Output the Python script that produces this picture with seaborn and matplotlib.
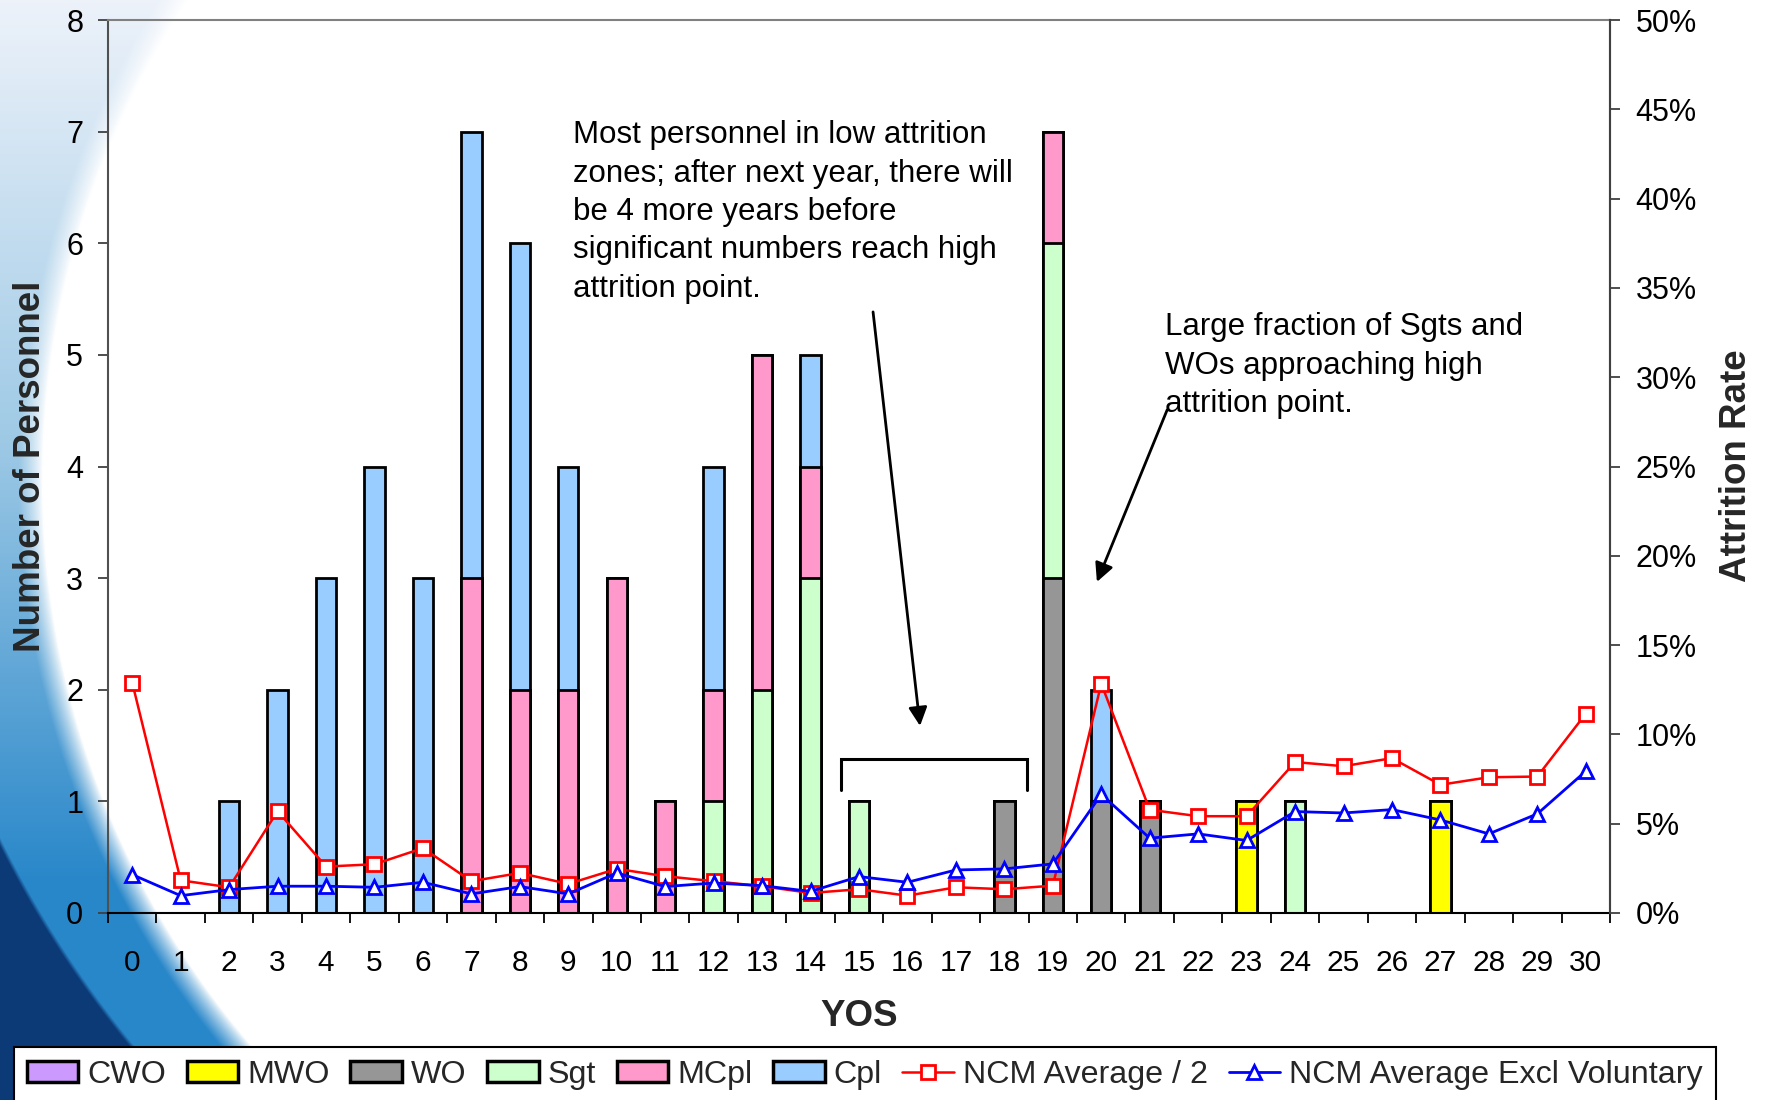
import numpy as np
import pandas as pd
import matplotlib
matplotlib.use("Agg")
import matplotlib.pyplot as plt
from matplotlib.patches import Patch
from matplotlib.lines import Line2D
from matplotlib.ticker import FixedLocator, FuncFormatter
import seaborn as sns

# ---- data -------------------------------------------------------------
years = list(range(31))
cwo  = [0, 0, 0, 0, 0, 0, 0, 0, 0, 0, 0, 0, 0, 0, 0, 0, 0, 0, 0, 0, 0, 0, 0, 0, 0, 0, 0, 0, 0, 0, 0]
mwo  = [0, 0, 0, 0, 0, 0, 0, 0, 0, 0, 0, 0, 0, 0, 0, 0, 0, 0, 0, 0, 0, 0, 0, 1, 0, 0, 0, 1, 0, 0, 0]
wo   = [0, 0, 0, 0, 0, 0, 0, 0, 0, 0, 0, 0, 0, 0, 0, 0, 0, 0, 1, 3, 1, 1, 0, 0, 0, 0, 0, 0, 0, 0, 0]
sgt  = [0, 0, 0, 0, 0, 0, 0, 0, 0, 0, 0, 0, 1, 2, 3, 1, 0, 0, 0, 3, 0, 0, 0, 0, 1, 0, 0, 0, 0, 0, 0]
mcpl = [0, 0, 0, 0, 0, 0, 0, 3, 2, 2, 3, 1, 1, 3, 1, 0, 0, 0, 0, 1, 0, 0, 0, 0, 0, 0, 0, 0, 0, 0, 0]
cpl  = [0, 0, 1, 2, 3, 4, 3, 4, 4, 2, 0, 0, 2, 0, 1, 0, 0, 0, 0, 0, 1, 0, 0, 0, 0, 0, 0, 0, 0, 0, 0]

# attrition rates, percent
ncm_avg_half = [12.9, 1.83, 1.44, 5.7, 2.6, 2.73, 3.63, 1.78, 2.24, 1.63, 2.47, 2.06, 1.78, 1.5,
                1.12, 1.33, 0.97, 1.44, 1.33, 1.53, 12.84, 5.78, 5.42, 5.42, 8.45, 8.22, 8.67,
                7.18, 7.6, 7.64, 11.16]
ncm_avg_excl_vol = [2.15, 0.97, 1.31, 1.5, 1.5, 1.44, 1.72, 1.07, 1.48, 1.07, 2.24, 1.48, 1.68,
                    1.53, 1.21, 2.04, 1.72, 2.41, 2.47, 2.75, 6.64, 4.19, 4.43, 4.06, 5.68, 5.6,
                    5.79, 5.21, 4.43, 5.55, 7.94]

rank_names = ["CWO", "MWO", "WO", "Sgt", "MCpl", "Cpl"]
rank_counts = [cwo, mwo, wo, sgt, mcpl, cpl]
rank_colors = ["#CC99FF", "#FFFF00", "#969696", "#CCFFCC", "#FF99CC", "#99CCFF"]

# ---- style ------------------------------------------------------------
sns.set_theme(style="white")
plt.rcParams["font.family"] = ["Liberation Sans", "DejaVu Sans"]

W, H = 1767, 1100
fig = plt.figure(figsize=(W / 100, H / 100), dpi=100, facecolor="white")

# slide-template backdrop: blue swoosh on the left edge
yy, xx = np.mgrid[0:H, 0:W].astype(float)
d_white = np.hypot(xx - 912, yy - 480) - 870
d_navy = np.hypot(xx - 953, yy - 371) - 1063
t = np.clip(yy / 880.0, 0, 1)[..., None]
c_top = np.array([0.93, 0.95, 0.98])
c_mid = np.array([0.62, 0.79, 0.90])
c_bot = np.array([0.16, 0.53, 0.79])
blue = np.where(t < 0.5, c_top + (c_mid - c_top) * (t / 0.5),
                c_mid + (c_bot - c_mid) * ((t - 0.5) / 0.5))
navy = np.array([0.05, 0.23, 0.47])
n = np.clip((d_navy + 2) / 4.0, 0, 1)[..., None]
blue = blue * (1 - n) + navy * n
w = (np.clip(d_white / 24.0, 0, 1) ** 0.8)
w = np.where(xx < 700, w, 0)[..., None]
img = np.ones((H, W, 3)) * (1 - w) + blue * w
bg = fig.add_axes([0, 0, 1, 1], zorder=-10)
bg.imshow(img, aspect="auto", extent=(0, 1, 0, 1), interpolation="bilinear")
bg.axis("off")

# ---- main axes --------------------------------------------------------
ax = fig.add_axes([108 / W, 1 - 913 / H, (1610 - 108) / W, (913 - 20) / H], zorder=1)
ax.set_facecolor("none")

# stacked bars: draw cumulative totals from the top layer down
cum = np.zeros(len(years))
tops = []
for vals in rank_counts:
    cum = cum + np.array(vals, dtype=float)
    tops.append(cum.copy())
for top, col in reversed(list(zip(tops, rank_colors))):
    sns.barplot(x=years, y=top, color=col, saturation=1, edgecolor="black",
                linewidth=2.0, width=0.42, errorbar=None, ax=ax)

ax.set_xlim(-0.5, 30.5)
ax.set_ylim(0, 8)
ax.set_yticks(range(0, 9))
ax.set_xticks(years)
ax.set_xticklabels([str(y) for y in years])
ax.xaxis.set_minor_locator(FixedLocator(np.arange(-0.5, 31, 1.0)))
ax.set_xlabel("")
ax.set_ylabel("")
ax.tick_params(axis="x", which="major", length=0, pad=26, labelsize=21.5, colors="black")
ax.tick_params(axis="x", which="minor", bottom=True, length=7.5, width=1.3,
               direction="out", color="black")
ax.tick_params(axis="y", which="major", left=True, length=7.5, width=1.3,
               direction="out", pad=10.4, labelsize=22, color="#404040", labelcolor="black")
for side in ["top", "right"]:
    ax.spines[side].set_color("#808080")
    ax.spines[side].set_linewidth(1.5)
ax.spines["left"].set_color("#505050")
ax.spines["left"].set_linewidth(1.5)
ax.spines["bottom"].set_color("black")
ax.spines["bottom"].set_linewidth(1.5)

# ---- attrition lines on the secondary axis ------------------------------
ax2 = ax.twinx()
ax2.set_zorder(2)
ax2.set_facecolor("none")
sns.lineplot(x=years, y=ncm_avg_half, ax=ax2, color="red", linewidth=1.8,
             marker="s", markersize=10, markerfacecolor="white",
             markeredgecolor="red", markeredgewidth=2, legend=False)
sns.lineplot(x=years, y=ncm_avg_excl_vol, ax=ax2, color="blue", linewidth=2.0,
             marker="^", markersize=10.5, markerfacecolor="white",
             markeredgecolor="blue", markeredgewidth=2, legend=False)
ax2.set_ylim(0, 50)
ax2.set_yticks(range(0, 51, 5))
ax2.yaxis.set_major_formatter(FuncFormatter(lambda v, p: f"{v:.0f}%"))
ax2.set_ylabel("")
ax2.tick_params(axis="y", which="major", right=True, length=7.5, width=1.3,
                direction="out", pad=10.8, labelsize=22, color="#404040", labelcolor="black")
for side in ["top", "left", "bottom"]:
    ax2.spines[side].set_visible(False)
ax2.spines["right"].set_color("#404040")
ax2.spines["right"].set_linewidth(1.5)

# ---- annotations ------------------------------------------------------
note_kw = dict(fontsize=22.5, color="black", ha="left", va="top", linespacing=1.36)
ax.text(9.10, 7.10, "Most personnel in low attrition\nzones; after next year, there will\n"
        "be 4 more years before\nsignificant numbers reach high\nattrition point.", **note_kw)
ax.text(21.32, 5.38, "Large fraction of Sgts and\nWOs approaching high\nattrition point.", **note_kw)
arrow_kw = dict(arrowstyle="-|>", lw=2, color="black", mutation_scale=28,
                shrinkA=0, shrinkB=0)
ax.annotate("", xy=(16.26, 1.676), xytext=(15.29, 5.385), arrowprops=arrow_kw)
ax.annotate("", xy=(19.91, 2.966), xytext=(21.36, 4.507), arrowprops=arrow_kw)
ax.plot([14.63, 14.63, 18.47, 18.47], [1.10, 1.38, 1.38, 1.10], color="black",
        lw=2.2, solid_joinstyle="miter")

# ---- axis titles ------------------------------------------------------
fig.text(31 / W, 1 - 466 / H, "Number of Personnel", rotation=90, fontsize=26.5,
         fontweight="bold", ha="center", va="center")
fig.text(1736 / W, 1 - 466 / H, "Attrition Rate", rotation=90, fontsize=26.5,
         fontweight="bold", ha="center", va="center")
fig.text(859 / W, 1 - 1017 / H, "YOS", fontsize=26.5, fontweight="bold",
         ha="center", va="center")

# ---- legend -----------------------------------------------------------
handles = [Patch(facecolor=c, edgecolor="black", linewidth=2.5) for c in rank_colors]
handles += [
    Line2D([], [], color="red", lw=1.8, marker="s", ms=10, mfc="white", mec="red", mew=2),
    Line2D([], [], color="blue", lw=2.0, marker="^", ms=10.5, mfc="white", mec="blue", mew=2),
]
labels = rank_names + ["NCM Average / 2", "NCM Average Excl Voluntary"]
leg = fig.legend(handles, labels, loc="upper left", bbox_to_anchor=(14 / W, 1 - 1047 / H),
                 ncol=8, frameon=True, fancybox=False, edgecolor="black", facecolor="white",
                 framealpha=1, fontsize=23.2, handlelength=1.6, handleheight=0.62,
                 handletextpad=0.28, columnspacing=0.64, borderpad=0.4, borderaxespad=0)
leg.get_frame().set_linewidth(1.5)

fig.savefig("out.png", dpi=100, facecolor="white")
